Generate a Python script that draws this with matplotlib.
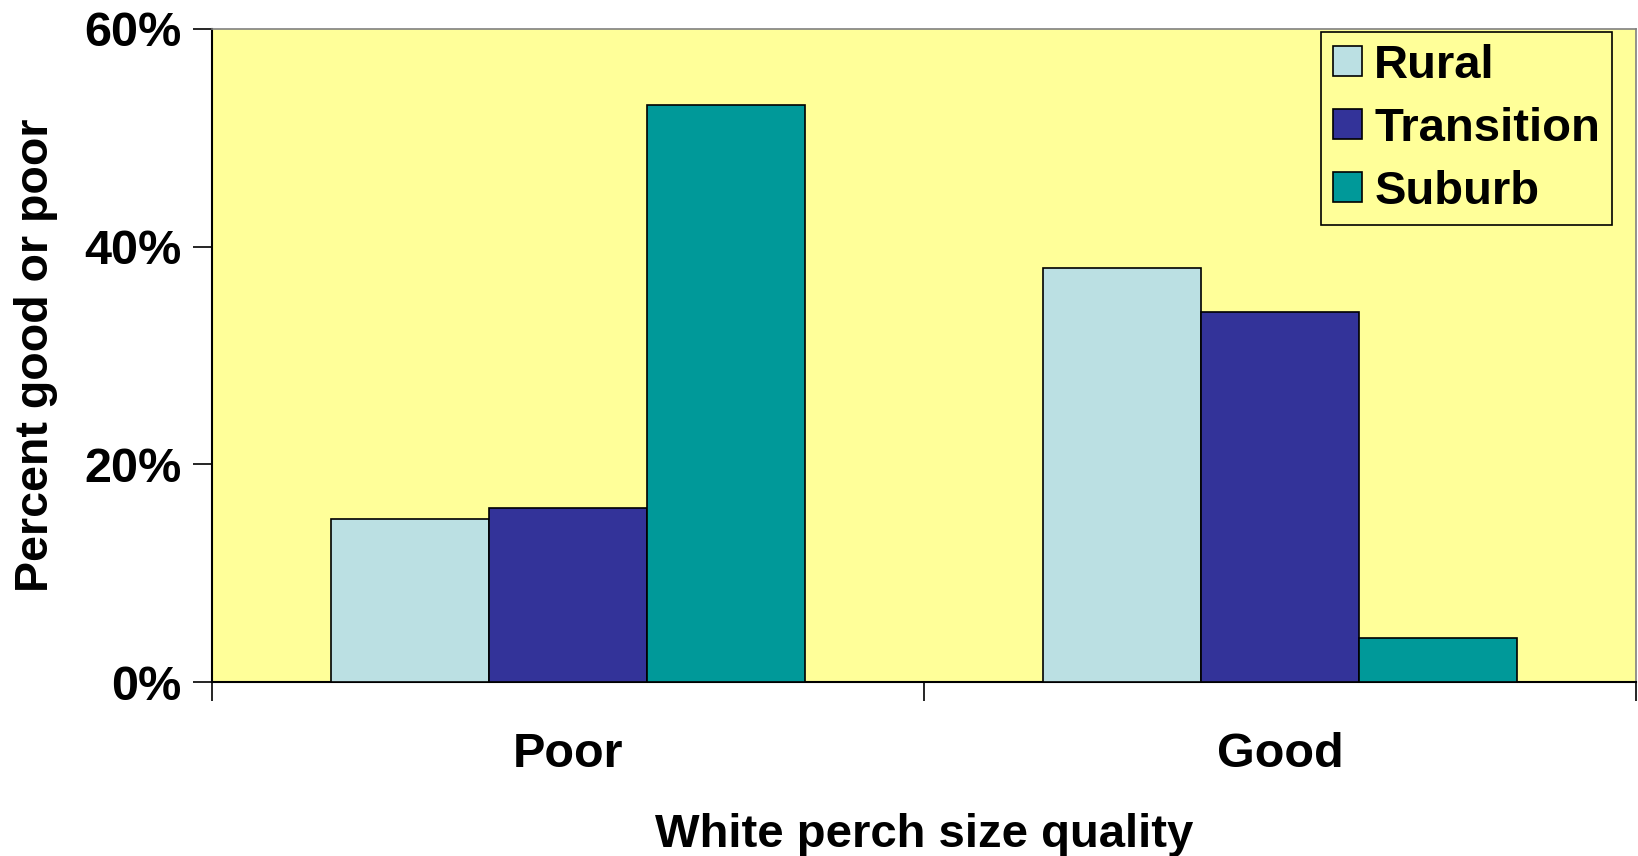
import matplotlib
matplotlib.use("Agg")
import matplotlib.pyplot as plt
import numpy as np

categories = ["Poor", "Good"]
series = ["Rural", "Transition", "Suburb"]
rural = [15, 38]
transition = [16, 34]
suburb = [53, 4]
colors = ["#BBE0E3", "#333399", "#009999"]
yticks = [0, 20, 40, 60]
ytick_labels = ["0%", "20%", "40%", "60%"]

plt.rcParams['font.family'] = ['Liberation Sans', 'DejaVu Sans']
plt.rcParams['font.weight'] = 'bold'

fig = plt.figure(figsize=(16.38, 8.56), dpi=100)
ax = fig.add_axes([212/1638, 1-682/856, (1636-212)/1638, (682-29)/856])
ax.set_facecolor("#FFFF99")

x = np.arange(len(categories))
w = 1/4.5
for i, (name, vals) in enumerate(zip(series, [rural, transition, suburb])):
    ax.bar(x + (i-1)*w, vals, width=w, color=colors[i], edgecolor="black",
           linewidth=1.2, label=name, zorder=3)

ax.set_xlim(-0.5, 1.5)
ax.set_ylim(0, 60)
ax.set_yticks(yticks)
ax.set_yticklabels(ytick_labels, fontsize=35, fontweight='bold')
ax.set_xticks([-0.5, 0.5, 1.5])
ax.set_xticklabels([])
ax.set_xticks(x, minor=True)
ax.set_xticklabels(categories, minor=True, fontsize=35, fontweight='bold')
ax.tick_params(axis='x', which='minor', length=0, pad=36)
ax.tick_params(axis='x', which='major', length=14, width=1.2, direction='out')
ax.tick_params(axis='y', length=14, width=1.2, direction='out', pad=8)

for s in ['left', 'bottom']:
    ax.spines[s].set_color('black')
    ax.spines[s].set_linewidth(1.5)
for s in ['top', 'right']:
    ax.spines[s].set_color('#808080')
    ax.spines[s].set_linewidth(1.2)

ax.set_xlabel("White perch size quality", fontsize=34, fontweight='bold', labelpad=26)
ax.set_ylabel("Percent good or poor", fontsize=33.5, fontweight='bold', labelpad=19)

leg = ax.legend(loc='upper right', bbox_to_anchor=((1612-212)/(1636-212), 1-(32-29)/(682-29)),
                fontsize=34, frameon=True, fancybox=False, edgecolor='black',
                facecolor='#FFFF99', framealpha=1, handlelength=0.62, handleheight=0.6,
                handletextpad=0.26, labelspacing=0.4, borderpad=0.25, borderaxespad=0)
leg.get_frame().set_linewidth(1.2)
for t in leg.get_texts():
    t.set_fontweight('bold')

fig.savefig("out.png", dpi=100)
